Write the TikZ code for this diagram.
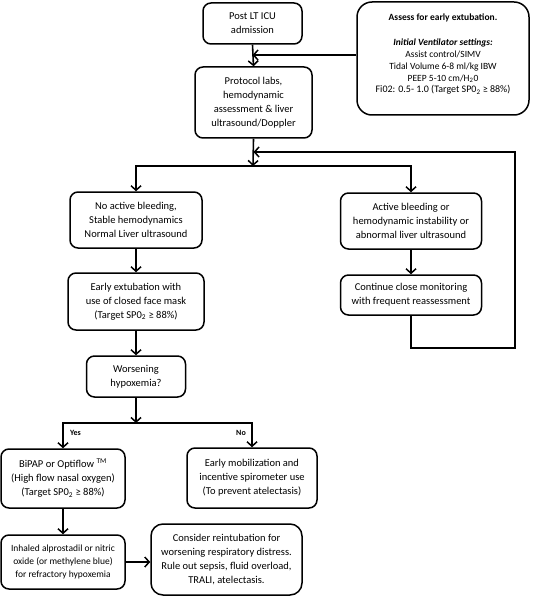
\documentclass[tikz,border=0pt]{standalone}
\usepackage{fontspec}
\setmainfont{Carlito}
\usetikzlibrary{arrows.meta}
\tikzset{
  box/.style={draw, line width=1.5pt, rounded corners=8pt, align=center, inner sep=2pt,
    font=\fontsize{10.5}{14}\selectfont},
  arr/.style={line width=1.6pt, -{Straight Barb[length=4.5pt,width=10pt,line width=1.5pt]}},
  lbl/.style={font=\fontsize{8}{9}\bfseries\selectfont, inner sep=0pt}
}
\begin{document}
\begin{tikzpicture}[x=1pt,y=-1pt]
\useasboundingbox (0,0) rectangle (533,596);

\node[box, minimum width=99pt, minimum height=41pt] (icu) at (252.5,23.5) {Post LT ICU\\admission};
\node[box, minimum width=117pt, minimum height=71pt] (proto) at (253.5,102.5) {Protocol labs,\\hemodynamic\\assessment \& liver\\ultrasound/Doppler};
\node[box, rounded corners=15pt, minimum width=172pt, minimum height=113pt,
      font=\fontsize{9.5}{11.8}\selectfont] (assess) at (443,58.5)
  {\textbf{Assess for early extubation.}\\[13pt]
   \textbf{\textit{Initial Ventilator settings:}}\\
   Assist control/SIMV\\
   Tidal Volume 6-8 ml/kg IBW\\
   PEEP 5-10 cm/H\textsubscript{2}0\\
   {\fontsize{10}{12}\selectfont Fi02: 0.5- 1.0 (Target SP0\textsubscript{2} ≥ 88\%)}\\[-2pt]\mbox{}};

\node[box, minimum width=132pt, minimum height=56pt] (noact) at (136,220) {No active bleeding,\\Stable hemodynamics\\Normal Liver ultrasound};
\node[box, minimum width=136pt, minimum height=57pt] (early) at (136,301.5) {Early extubation with\\use of closed face mask\\(Target SP0\textsubscript{2} ≥ 88\%)};
\node[box, minimum width=141pt, minimum height=56pt] (active) at (411,221) {Active bleeding or\\hemodynamic instability or\\abnormal liver ultrasound};
\node[box, minimum width=141pt, minimum height=40pt] (cont) at (411,295) {Continue close monitoring\\with frequent reassessment};
\node[box, minimum width=99pt, minimum height=41pt] (worse) at (136,376.5) {Worsening\\hypoxemia?};
\node[box, minimum width=124pt, minimum height=59pt] (bipap) at (63,478.5) {BiPAP or Optiflow \textsuperscript{TM}\\(High flow nasal oxygen)\\(Target SP0\textsubscript{2} ≥ 88\%)};
\node[box, minimum width=130pt, minimum height=60pt] (mob) at (252,478) {Early mobilization and\\incentive spirometer use\\(To prevent atelectasis)};
\node[box, minimum width=124pt, minimum height=54pt, font=\fontsize{9.5}{12.8}\selectfont] (inh) at (63,562) {Inhaled alprostadil or nitric\\oxide (or methylene blue)\\for refractory hypoxemia};
\node[box, rounded corners=12pt, minimum width=151pt, minimum height=71pt] (cons) at (226.5,559.5) {Consider reintubation for\\worsening respiratory distress.\\Rule out sepsis, fluid overload,\\TRALI, atelectasis.};

\coordinate (j1) at (icu.south |- 0,55);
\coordinate (a1) at (assess.west |- 0,55);
\coordinate (split) at (253,166);
\coordinate (fbb) at (515,348);
\coordinate (fbt) at (515,152);
\coordinate (split2) at (136,423);

\draw[arr] (icu.south) -- (proto.north);
\draw[arr] (a1) -- (j1);
\draw[arr] (proto.south) -- (split);
\draw[arr] (split) -| (noact.north);
\draw[arr] (split) -| (active.north);
\draw[arr] (noact) -- (early);
\draw[arr] (active) -- (cont);
\draw[arr] (cont.south) |- (fbb) -- (fbt) -- (fbt -| proto.south);
\draw[arr] (early) -- (worse);
\draw[arr] (worse.south) -- (split2);
\draw[arr] (split2) -| (bipap.north);
\draw[arr] (split2) -| (mob.north);
\draw[arr] (bipap) -- (inh);
\draw[arr] (inh) -- (inh -| cons.west);

\node[lbl, anchor=west] (yes) at (70,433) {Yes};
\node[lbl, anchor=east] (no) at (246,433) {No};
\end{tikzpicture}
\end{document}
